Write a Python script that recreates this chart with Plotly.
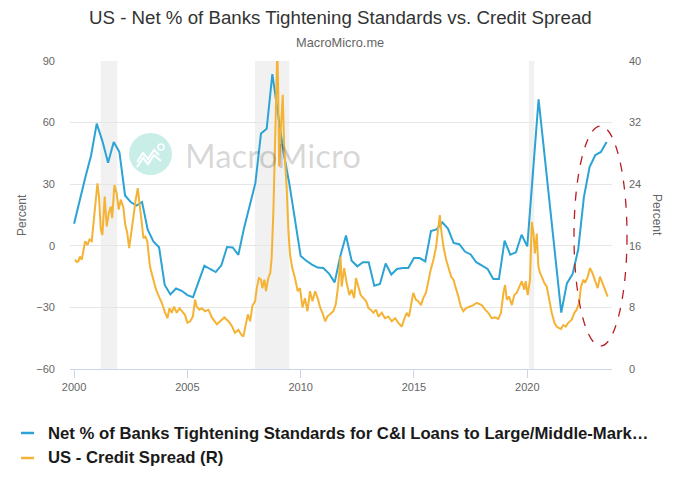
import pandas as pd
import plotly.graph_objects as go

# ---------------- data ----------------
quarters = pd.period_range("2000Q1", "2023Q3", freq="Q")
tightening = [
    10.7, 22.5, 33.5, 44.0,
    59.5, 51.0, 40.4, 50.6,
    45.7, 24.5, 21.3, 19.6,
    21.3, 7.8, 2.1, -0.7,
    -19.1, -23.7, -20.8, -21.9,
    -24.0, -25.0, -17.5, -9.7,
    -11.3, -12.8, -9.5, -0.6,
    -0.8, -4.4, 8.6, 20.0,
    30.5, 54.7, 57.0, 83.6,
    65.0, 45.0, 30.3, 13.0,
    -5.0, -7.3, -9.2, -10.6,
    -10.8, -13.5, -17.8, -5.0,
    5.0, -7.3, -10.0, -8.0,
    -8.0, -19.4, -18.6, -8.6,
    -14.0, -11.3, -10.8, -10.8,
    -6.0, -6.0, -7.6, 7.2,
    8.0, 11.4, 8.4, 1.4,
    0.8, -2.8, -4.2, -8.0,
    -9.5, -11.3, -16.2, -16.2,
    2.5, -4.3, -3.2, 5.4,
    -0.3, 35.5, 71.3, 45.5,
    19.5, -6.5, -32.5, -18.3,
    -13.8, -1.7, 23.7, 38.4,
    44.1, 45.7, 50.6,
]

spread_dates = [
    2000.04, 2000.12, 2000.19, 2000.26, 2000.34, 2000.41, 2000.49, 2000.59, 2000.68, 2000.78,
    2000.85, 2000.93, 2001.03, 2001.10, 2001.18, 2001.25, 2001.35, 2001.44, 2001.53, 2001.62,
    2001.68, 2001.78, 2001.88, 2001.97, 2002.06, 2002.18, 2002.25, 2002.35, 2002.43, 2002.52,
    2002.62, 2002.72, 2002.81, 2002.90, 2002.97, 2003.06, 2003.15, 2003.23, 2003.35, 2003.50,
    2003.62, 2003.72, 2003.87, 2004.02, 2004.12, 2004.21, 2004.31, 2004.41, 2004.53, 2004.65,
    2004.78, 2004.90, 2005.00, 2005.12, 2005.24, 2005.34, 2005.41, 2005.53, 2005.64, 2005.78,
    2005.93, 2006.08, 2006.30, 2006.44, 2006.63, 2006.81, 2006.96, 2007.10, 2007.25, 2007.37,
    2007.47, 2007.58, 2007.67, 2007.77, 2007.87, 2007.99, 2008.06, 2008.16, 2008.25, 2008.31,
    2008.40, 2008.47, 2008.57, 2008.66, 2008.72, 2008.80, 2008.87, 2008.93, 2008.97, 2009.01,
    2009.05, 2009.12, 2009.21, 2009.27, 2009.38, 2009.46, 2009.53, 2009.63, 2009.75, 2009.87,
    2009.97, 2010.08, 2010.19, 2010.30, 2010.41, 2010.52, 2010.64, 2010.75, 2010.86, 2010.96,
    2011.08, 2011.20, 2011.30, 2011.44, 2011.55, 2011.66, 2011.76, 2011.81, 2011.92, 2012.03,
    2012.15, 2012.25, 2012.36, 2012.44, 2012.55, 2012.65, 2012.77, 2012.89, 2012.99, 2013.09,
    2013.21, 2013.33, 2013.43, 2013.58, 2013.72, 2013.87, 2014.02, 2014.17, 2014.31, 2014.46,
    2014.56, 2014.68, 2014.78, 2014.87, 2014.97, 2015.08, 2015.19, 2015.31, 2015.41, 2015.53,
    2015.64, 2015.74, 2015.86, 2015.98, 2016.08, 2016.14, 2016.20, 2016.30, 2016.42, 2016.52,
    2016.64, 2016.74, 2016.86, 2016.96, 2017.07, 2017.18, 2017.30, 2017.48, 2017.62, 2017.77,
    2017.89, 2017.99, 2018.14, 2018.28, 2018.43, 2018.58, 2018.72, 2018.84, 2018.95, 2019.02,
    2019.10, 2019.20, 2019.32, 2019.43, 2019.54, 2019.64, 2019.76, 2019.87, 2019.93, 2020.02,
    2020.12, 2020.20, 2020.27, 2020.34, 2020.42, 2020.49, 2020.56, 2020.64, 2020.75, 2020.86,
    2020.96, 2021.08, 2021.20, 2021.30, 2021.40, 2021.49, 2021.59, 2021.70, 2021.81, 2021.96,
    2022.08, 2022.18, 2022.29, 2022.37, 2022.48, 2022.55, 2022.67, 2022.77, 2022.87, 2022.99,
    2023.11, 2023.21, 2023.31, 2023.43, 2023.55,
]
spread_values = [
    14.2, 13.9, 14.0, 14.6, 14.2, 15.3, 16.6, 16.1, 16.8, 16.6,
    18.9, 20.7, 24.1, 22.4, 18.1, 17.4, 22.4, 18.5, 20.2, 21.1,
    19.6, 23.9, 22.8, 20.7, 22.0, 20.9, 18.9, 17.6, 15.7, 17.6,
    20.2, 22.0, 23.5, 21.5, 19.4, 17.0, 17.2, 16.6, 13.3, 11.6,
    10.3, 9.6, 8.6, 7.3, 6.6, 7.9, 7.3, 8.1, 7.3, 7.9,
    7.5, 7.0, 6.0, 6.2, 6.8, 9.0, 8.1, 7.7, 7.9, 7.5,
    7.7, 6.7, 5.8, 6.2, 6.7, 6.2, 5.6, 4.7, 5.1, 4.5,
    4.2, 5.8, 7.1, 6.2, 8.2, 8.8, 10.5, 11.8, 11.6, 10.5,
    11.6, 10.1, 11.8, 12.5, 14.4, 20.9, 29.6, 37.8, 41.5, 36.0,
    26.3, 31.0, 35.6, 28.9, 23.7, 17.9, 14.9, 13.1, 11.8, 10.1,
    10.5, 8.0, 9.2, 7.5, 10.1, 8.8, 10.1, 9.2, 8.0, 7.3,
    6.2, 6.9, 7.1, 7.5, 8.4, 11.0, 14.6, 10.7, 13.1, 11.2,
    9.6, 10.3, 9.2, 11.8, 10.5, 9.6, 9.2, 8.8, 7.9, 7.7,
    7.3, 7.7, 6.8, 7.3, 6.6, 6.8, 6.2, 6.6, 6.0, 5.5,
    6.4, 7.3, 6.8, 8.1, 9.9, 9.0, 8.8, 8.3, 9.2, 9.9,
    11.6, 12.9, 14.2, 15.9, 18.5, 20.0, 18.1, 15.9, 14.2, 13.3,
    12.0, 11.6, 10.5, 9.4, 8.1, 7.5, 7.9, 8.1, 8.3, 8.6,
    8.4, 8.3, 7.7, 7.3, 6.6, 6.7, 6.5, 7.3, 9.9, 10.9,
    9.0, 9.4, 8.3, 9.6, 9.9, 10.7, 11.4, 10.3, 11.4, 9.6,
    11.6, 19.1, 17.8, 15.0, 17.6, 13.3, 12.5, 12.0, 11.2, 10.7,
    9.0, 7.3, 6.0, 5.5, 5.3, 5.2, 5.7, 5.5, 6.0, 6.4,
    7.3, 7.7, 8.6, 10.7, 11.6, 11.2, 12.0, 13.1, 12.5, 11.6,
    10.5, 12.0, 11.2, 10.5, 9.4,
]

recession_start = [2001.17, 2007.98, 2020.07]
recession_end = [2001.91, 2009.50, 2020.31]

year_ticks = [2000, 2005, 2010, 2015, 2020]
left_ticks = [-60, -30, 0, 30, 60, 90]
right_ticks = [0, 8, 16, 24, 32, 40]

series_names = [
    "Net % of Banks Tightening Standards for C&I Loans to Large/Middle-Mark…",
    "US - Credit Spread (R)",
]
title_text = "US - Net % of Banks Tightening Standards vs. Credit Spread"
subtitle_text = "MacroMicro.me"

BLUE = "#2ba3d4"
ORANGE = "#f5b335"
FONT = "Liberation Sans, Arial, sans-serif"

# ------------- geometry (page has an 8px body margin) -------------
OFF = 8
W_FIG, H_FIG = 672, 480
L, T = 62, 53
PW, PH = 542, 308
R, B = W_FIG - L - PW, H_FIG - T - PH


def px(x):
    # screenshot pixel x -> paper coordinate
    return (x - OFF - L) / PW


def py(y):
    # screenshot pixel y -> paper coordinate
    return (T + PH - (y - OFF)) / PH


quarter_x = [q.start_time.year + (q.start_time.month - 1) / 12 for q in quarters]

fig = go.Figure()
fig.add_trace(go.Scatter(
    x=quarter_x, y=tightening, mode="lines", name=series_names[0],
    line=dict(color=BLUE, width=2), yaxis="y", showlegend=False,
))
fig.add_trace(go.Scatter(
    x=spread_dates, y=spread_values, mode="lines", name=series_names[1],
    line=dict(color=ORANGE, width=2), yaxis="y2", showlegend=False,
))

shapes = []
for s, e in zip(recession_start, recession_end):
    shapes.append(dict(type="rect", xref="x", yref="paper", x0=s, x1=e, y0=0, y1=1,
                       fillcolor="#f1f1f1", line=dict(width=0), layer="below"))

# watermark logo circle + icon
shapes.append(dict(type="circle", xref="paper", yref="paper",
                   x0=px(129), x1=px(172), y0=py(175), y1=py(133),
                   fillcolor="#c9eee8", line=dict(width=0), layer="below"))
icon_pts = [(137, 162), (143, 153), (148, 159), (154, 150), (159, 155)]
path = "M " + " L ".join(f"{px(a):.4f},{py(b):.4f}" for a, b in icon_pts)
shapes.append(dict(type="path", xref="paper", yref="paper", path=path,
                   line=dict(color="white", width=2), layer="below"))
icon_pts2 = [(137, 167), (143, 158), (148, 164), (154, 155), (161, 161)]
path2 = "M " + " L ".join(f"{px(a):.4f},{py(b):.4f}" for a, b in icon_pts2)
shapes.append(dict(type="path", xref="paper", yref="paper", path=path2,
                   line=dict(color="white", width=2), layer="below"))
shapes.append(dict(type="circle", xref="paper", yref="paper",
                   x0=px(158), x1=px(164), y0=py(150), y1=py(144),
                   line=dict(color="white", width=1.5), layer="below"))

# red dashed ellipse highlight
shapes.append(dict(type="circle", xref="paper", yref="paper",
                   x0=px(574), x1=px(627), y0=py(346), y1=py(126),
                   line=dict(color="#b81d24", width=1.3, dash="dash")))

# manual legend markers
legend_y = [433, 458]
for yy, col in zip(legend_y, [BLUE, ORANGE]):
    shapes.append(dict(type="line", xref="paper", yref="paper",
                       x0=px(21), x1=px(34), y0=py(yy), y1=py(yy),
                       line=dict(color=col, width=2.5)))

annotations = [
    dict(text=title_text, xref="paper", yref="paper", x=px(340), y=py(17),
         xanchor="center", yanchor="middle", showarrow=False,
         font=dict(size=18.7, color="#333333", family=FONT)),
    dict(text=subtitle_text, xref="paper", yref="paper", x=px(340), y=py(43),
         xanchor="center", yanchor="middle", showarrow=False,
         font=dict(size=12.8, color="#666666", family=FONT)),
    dict(text="Percent", xref="paper", yref="paper", x=px(22), y=py(215),
         textangle=-90, xanchor="center", yanchor="middle", showarrow=False,
         font=dict(size=12, color="#666666", family=FONT)),
    dict(text="Percent", xref="paper", yref="paper", x=px(657), y=py(215),
         textangle=90, xanchor="center", yanchor="middle", showarrow=False,
         font=dict(size=12, color="#666666", family=FONT)),
    dict(text="MacroMicro", xref="paper", yref="paper", x=px(183), y=py(155),
         xanchor="left", yanchor="middle", showarrow=False,
         font=dict(size=33, color="rgba(0,0,0,0.17)", family="Lato, Open Sans, sans-serif")),
]
for yy, name in zip(legend_y, series_names):
    annotations.append(dict(text="<b>" + name + "</b>", xref="paper", yref="paper",
                            x=px(46), y=py(yy), xanchor="left", yanchor="middle",
                            showarrow=False,
                            font=dict(size=16.7, color="#1a1a1a", family=FONT)))

fig.update_layout(
    width=W_FIG, height=H_FIG,
    margin=dict(l=L, r=R, t=T, b=B, pad=0),
    paper_bgcolor="white", plot_bgcolor="white",
    font=dict(family=FONT, color="#666666", size=11),
    showlegend=False,
    xaxis=dict(
        range=[1999.82, 2023.74], tickvals=year_ticks, ticktext=[str(v) for v in year_ticks],
        showgrid=False, zeroline=False, showline=True, linecolor="#ccd6eb", linewidth=1,
        ticks="outside", ticklen=8, tickcolor="#ccd6eb", tickwidth=1,
        tickfont=dict(size=11, color="#666666"),
    ),
    yaxis=dict(
        range=[-60, 90], tickvals=left_ticks, showgrid=True, gridcolor="#e6e6e6",
        gridwidth=1, zeroline=False, showline=False, ticks="",
        tickfont=dict(size=11, color="#666666"), ticklabelstandoff=14,
    ),
    yaxis2=dict(
        range=[0, 40], tickvals=right_ticks, overlaying="y", side="right",
        showgrid=False, zeroline=False, showline=False, ticks="",
        tickfont=dict(size=11, color="#666666"), ticklabelstandoff=16,
    ),
    shapes=shapes,
    annotations=annotations,
)

fig.write_html("out.html")
